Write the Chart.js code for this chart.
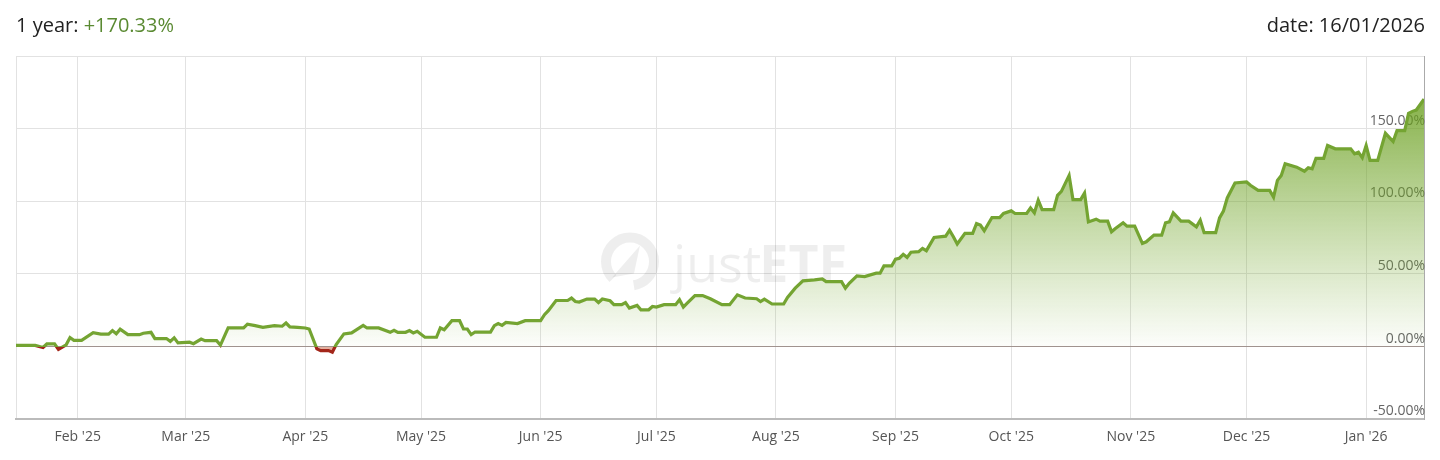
<!DOCTYPE html>
<html>
<head>
<meta charset="utf-8">
<script src="https://cdn.jsdelivr.net/npm/chart.js@4/dist/chart.umd.min.js"></script>
<style>
  body { margin: 0; background: #fff; font-family: 'Open Sans', sans-serif; }
  #wrap { position: relative; width: 1440px; height: 460px; }
  .head { position: absolute; top: 11px; font-size: 20px; color: #222; line-height: 28px; }
  #left { left: 16px; }
  #right { right: 15px; }
  .gain { color: #5a8a32; }
  canvas { position: absolute; left: 0; top: 0; }
</style>
</head>
<body>
<div id="wrap">
  <canvas id="perf" width="1440" height="460"></canvas>
  <div class="head" id="left">1 year: <span class="gain">+170.33%</span></div>
  <div class="head" id="right">date: 16/01/2026</div>
</div>
<script>
// days since 16/01/2025 and cumulative return in %
const days = [
    0, 5, 7, 8, 10, 11, 13, 14, 15, 17,
    20, 22, 24, 25, 26, 27, 29, 32, 33, 35,
    36, 39, 40, 41, 42, 45, 46, 48, 49, 52,
    53, 55, 59, 60, 62, 64, 67, 69, 70, 71,
    73, 75, 76, 78, 79, 81, 82, 83, 85, 87,
    90, 91, 94, 97, 98, 99, 101, 102, 103, 104,
    106, 109, 110, 111, 113, 115, 116, 117, 118, 119,
    123, 124, 125, 126, 127, 130, 132, 136, 137, 138,
    140, 143, 144, 145, 146, 148, 150, 151, 152, 154,
    155, 157, 158, 159, 161, 162, 164, 165, 166, 168,
    171, 172, 173, 174, 176, 178, 180, 183, 185, 187,
    189, 192, 193, 194, 196, 199, 200, 202, 204, 207,
    209, 210, 214, 215, 216, 218, 220, 223, 224, 225,
    227, 228, 229, 230, 231, 232, 234, 235, 236, 238,
    241, 242, 243, 244, 246, 248, 249, 250, 251, 253,
    255, 256, 258, 259, 262, 263, 264, 265, 266, 269,
    270, 271, 273, 274, 276, 277, 278, 280, 281, 283,
    284, 285, 287, 288, 290, 292, 293, 295, 297, 298,
    299, 300, 302, 304, 306, 307, 308, 311, 312, 313,
    314, 316, 319, 320, 322, 325, 326, 327, 328, 329,
    332, 334, 335, 336, 337, 339, 340, 342, 346, 347,
    348, 349, 350, 351, 353, 355, 357, 358, 360, 361,
    362, 363, 365
];
const returns = [
    0.8, 0.8, -0.6, 1.8, 1.8, -2, 1.2, 6.2, 4.3, 4.3,
    9.6, 8.6, 8.6, 11.0, 8.8, 12.0, 8.2, 8.2, 9.2, 9.8,
    5.5, 5.5, 3.6, 6.0, 2.5, 3.0, 2.0, 5.2, 4.1, 4.1,
    1.0, 12.8, 12.8, 15.4, 14.4, 13.2, 14.4, 14.0, 16.2, 13.5,
    13.2, 12.8, 12.1, -1.6, -2.8, -2.8, -3.9, 1.4, 8.7, 9.4,
    14.6, 12.8, 12.8, 9.8, 11.2, 9.8, 9.8, 11.0, 9.4, 10.5,
    6.4, 6.4, 12.8, 11.6, 17.8, 17.8, 12.1, 12.1, 8.2, 10.0,
    10.0, 14.4, 15.8, 14.6, 16.6, 15.8, 17.8, 17.8, 21.9, 24.7,
    31.7, 31.7, 33.4, 31.0, 30.6, 32.7, 32.7, 30.3, 32.7, 31.5,
    28.8, 28.8, 30.3, 26.5, 28.3, 25.3, 25.3, 27.6, 27.2, 28.8,
    28.8, 32.2, 27.2, 29.9, 35.1, 35.1, 32.9, 28.8, 28.8, 35.6,
    33.4, 32.9, 31.0, 32.7, 29.3, 29.3, 33.8, 40.2, 45.2, 45.9,
    46.6, 44.7, 44.7, 40.2, 43.6, 48.6, 48.2, 50.5, 50.5, 55.5,
    55.5, 60.1, 60.8, 63.5, 61.4, 64.9, 65.3, 67.6, 66.0, 75.1,
    76.0, 80.1, 75.6, 70.6, 77.9, 77.9, 84.7, 83.6, 79.7, 88.8,
    88.8, 91.6, 93.4, 91.6, 91.6, 95.4, 92.0, 100.7, 94.3, 94.3,
    104.1, 106.8, 117.8, 101.2, 101.2, 105.7, 85.8, 87.7, 86.3, 86.3,
    79.0, 81.3, 85.2, 82.9, 82.9, 71.0, 72.1, 76.7, 76.7, 85.2,
    85.8, 92.0, 86.3, 86.3, 82.4, 87.0, 78.4, 78.4, 88.6, 93.2,
    102.3, 112.6, 113.3, 111.0, 107.5, 107.5, 102.9, 114.4, 117.8, 125.8,
    123.5, 120.7, 123.1, 122.4, 129.6, 129.6, 138.4, 136.1, 136.1, 132.7,
    133.8, 130.0, 138.4, 128.1, 128.1, 146.8, 141.1, 148.6, 148.6, 160.5,
    161.9, 162.8, 170.33
];

// month grid lines (days since start) and their labels
const monthDays = [16, 44, 75, 105, 136, 166, 197, 228, 258, 289, 319, 350];
const monthLabels = ["Feb '25", "Mar '25", "Apr '25", "May '25", "Jun '25", "Jul '25",
    "Aug '25", "Sep '25", "Oct '25", "Nov '25", "Dec '25", "Jan '26"];
const yTicks = [-50, 0, 50, 100, 150, 200];

const points = days.map((d, i) => ({ x: d, y: returns[i] }));

// green area fading out at the zero line (semi transparent so the grid shows)
function areaFill(ctx) {
    const chart = ctx.chart;
    const area = chart.chartArea;
    if (!area) return 'transparent';
    const zero = chart.scales.y.getPixelForValue(0);
    const g = chart.ctx.createLinearGradient(0, area.top, 0, zero);
    g.addColorStop(0, 'rgba(100,155,22,0.92)');
    g.addColorStop(1, 'rgba(120,170,50,0.02)');
    return g;
}

// line is green above 0 and red below
function lineColor(ctx) {
    const chart = ctx.chart;
    const area = chart.chartArea;
    if (!area) return '#74a432';
    const zero = chart.scales.y.getPixelForValue(0);
    const f = Math.min(1, Math.max(0, (zero - area.top) / (area.bottom - area.top)));
    const g = chart.ctx.createLinearGradient(0, area.top, 0, area.bottom);
    g.addColorStop(0, '#74a432');
    g.addColorStop(f, '#74a432');
    g.addColorStop(f, '#a3261a');
    g.addColorStop(1, '#a3261a');
    return g;
}

// faded justETF logo behind the line
const watermark = {
    id: 'watermark',
    beforeDatasetsDraw(chart) {
        const c = chart.ctx;
        const a = chart.chartArea;
        const cx = (a.left + a.right) / 2;
        const cy = (a.top + a.bottom) / 2;
        c.save();
        c.fillStyle = 'rgba(0,0,0,0.065)';
        c.strokeStyle = 'rgba(0,0,0,0.065)';
        c.lineWidth = 10;
        c.beginPath();
        c.arc(cx - 90, cy + 24, 24, Math.PI * 0.75, Math.PI * 2.45);
        c.stroke();
        c.beginPath();
        c.moveTo(cx - 80, cy + 8);
        c.lineTo(cx - 108, cy + 40);
        c.lineTo(cx - 86, cy + 36);
        c.closePath();
        c.fill();
        c.textBaseline = 'alphabetic';
        c.font = '52px "Open Sans"';
        c.fillText('just', cx - 47, cy + 44);
        const w = c.measureText('just').width;
        c.font = 'bold 52px "Open Sans"';
        c.fillText('ETF', cx - 49 + w, cy + 44);
        c.restore();
    }
};

const tickFont = { family: 'Open Sans', size: 14 };

new Chart(document.getElementById('perf'), {
    type: 'line',
    data: {
        datasets: [{
            data: points,
            borderColor: lineColor,
            backgroundColor: areaFill,
            borderWidth: 3.2,
            pointRadius: 0,
            tension: 0,
            fill: { target: 'origin', below: 'rgba(205,110,80,0.55)' }
        }]
    },
    options: {
        responsive: false,
        animation: false,
        layout: { padding: { top: 56, left: 16, right: 14, bottom: 6 } },
        plugins: { legend: { display: false }, tooltip: { enabled: false } },
        scales: {
            x: {
                type: 'linear',
                min: 0,
                max: 365,
                afterBuildTicks: s => { s.ticks = [0, ...monthDays, 365].map(v => ({ value: v })); },
                ticks: {
                    autoSkip: false,
                    maxRotation: 0,
                    padding: 9,
                    color: '#555',
                    font: tickFont,
                    callback: v => {
                        const i = monthDays.indexOf(v);
                        return i >= 0 ? monthLabels[i] : '';
                    }
                },
                grid: { color: '#e2e2e2', drawTicks: false },
                border: { color: '#bbb', width: 2 }
            },
            y: {
                position: 'right',
                min: yTicks[0],
                max: yTicks[yTicks.length - 1],
                afterBuildTicks: s => { s.ticks = yTicks.map(v => ({ value: v })); },
                ticks: { display: false },
                grid: {
                    drawTicks: false,
                    color: ctx => ctx.tick && ctx.tick.value === 0 ? '#999' : '#e2e2e2'
                },
                border: { color: '#aaa' }
            },
            // same range, only carries the labels on top of the filled area
            yLabels: {
                position: 'right',
                z: 1,
                min: yTicks[0],
                max: yTicks[yTicks.length - 1],
                afterBuildTicks: s => { s.ticks = yTicks.map(v => ({ value: v })); },
                ticks: {
                    mirror: true,
                    labelOffset: -8,
                    padding: 1,
                    color: '#666',
                    font: tickFont,
                    callback: v => v === 200 ? '' : v.toFixed(2) + '%'
                },
                grid: { display: false, drawTicks: false },
                border: { display: false }
            }
        }
    },
    plugins: [watermark]
});
</script>
</body>
</html>
